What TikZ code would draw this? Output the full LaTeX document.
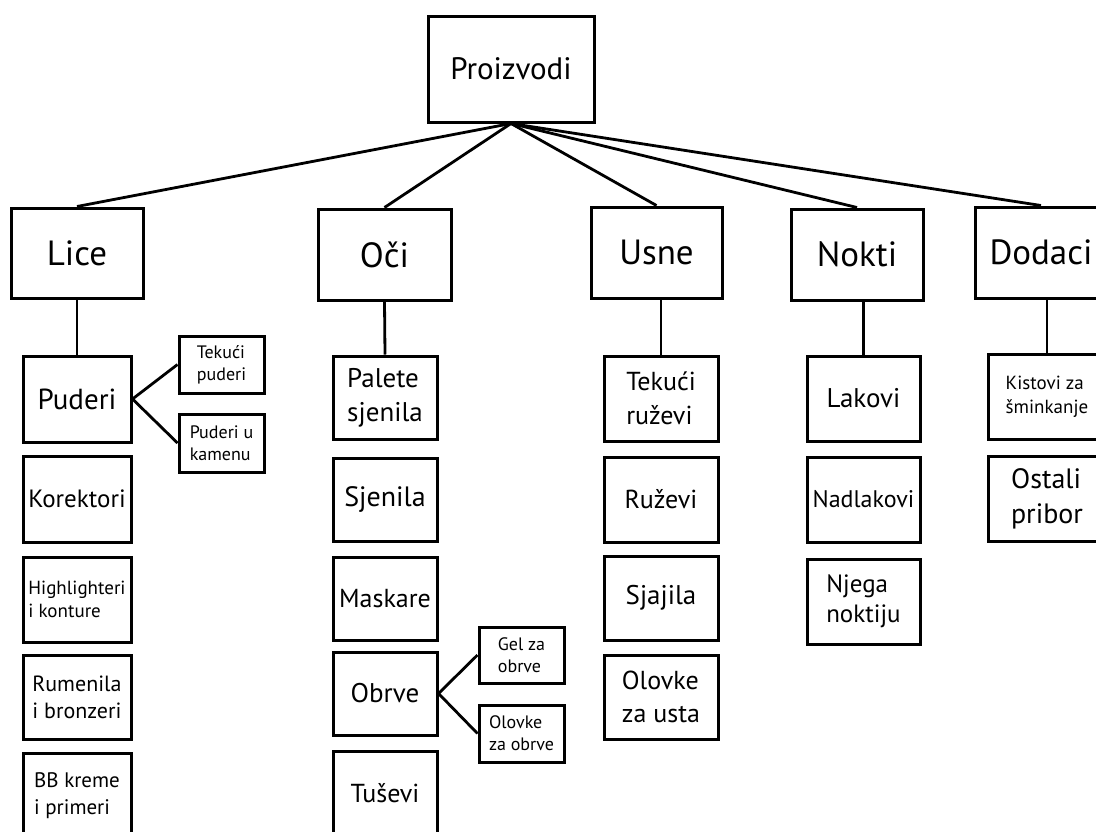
\documentclass[tikz,border=0pt]{standalone}
\usepackage{fontspec}
\setmainfont{PT Sans}
\begin{document}
\begin{tikzpicture}[x=1pt,y=-1pt,
  bx/.style={draw, line width=3pt, inner sep=0pt, align=left},
  wh/.style 2 args={minimum width=#1pt, minimum height=#2pt},
  fs/.style 2 args={font=\fontsize{#1}{#2}\selectfont},
  link/.style={line width=2.8pt}]
\useasboundingbox[fill=white] (0,0) rectangle (1096,831);
% root and categories
\node[bx,wh={166}{106},fs={31}{38}] (P) at (511,69) {Proizvodi};
\node[bx,wh={132}{90},fs={35}{42}] (Lice) at (77,253) {Lice};
\node[bx,wh={133}{91},fs={35}{42}] (Oci) at (384.5,254.5) {Oči};
\node[bx,wh={131}{91},fs={35}{42}] (Usne) at (656.5,252.5) {Usne};
\node[bx,wh={132}{91},fs={35}{42}] (Nokti) at (857,254.5) {Nokti};
\node[bx,wh={132}{91},fs={35}{42}] (Dodaci) at (1041,252.5) {Dodaci};
% Lice column
\node[bx,wh={108}{86},fs={29}{36}] (Puderi) at (77,399) {Puderi};
\node[bx,wh={108}{86},fs={25}{31}] (Kor) at (77,499) {Korektori};
\node[bx,wh={108}{85},fs={19}{23}] (High) at (77,599.5) {Highlighteri\\i konture};
\node[bx,wh={108}{84},fs={22}{27}] (Rum) at (77,697) {Rumenila\\i bronzeri};
\node[bx,wh={108}{85},fs={21}{27}] (BB) at (77,795.5) {BB kreme\\i primeri};
\node[bx,wh={85}{57},fs={18}{22}] (TP) at (221.5,364.5) {Tekući\\puderi};
\node[bx,wh={85}{58},fs={18}{22}] (PK) at (221.5,443) {Puderi u\\kamenu};
% Oci column
\node[bx,wh={104}{83},fs={27}{34}] (Pal) at (385,397.5) {Palete\\sjenila};
\node[bx,wh={104}{83},fs={28}{34}] (Sje) at (385,499.5) {Sjenila};
\node[bx,wh={104}{83},fs={26}{32}] (Mas) at (385,598.5) {Maskare};
\node[bx,wh={104}{83},fs={27}{34}] (Obr) at (385,693.5) {Obrve};
\node[bx,wh={104}{85},fs={26}{32}] (Tus) at (385,793.5) {Tuševi};
\node[bx,wh={85}{56},fs={18}{22}] (Gel) at (521.5,655) {Gel za\\obrve};
\node[bx,wh={85}{57},fs={18}{22}] (OlO) at (521.5,733.5) {Olovke\\za obrve};
% Usne column
\node[bx,wh={114}{85},fs={26}{34}] (TR) at (661,398.5) {Tekući\\ruževi};
\node[bx,wh={114}{85},fs={26}{32}] (Ruz) at (661,499.5) {Ruževi};
\node[bx,wh={114}{84},fs={27}{34}] (Sja) at (661,598) {Sjajila};
\node[bx,wh={114}{84},fs={26}{33}] (OlU) at (661,697) {Olovke\\za usta};
% Nokti column
\node[bx,wh={113}{85},fs={27}{34}] (Lak) at (863.5,398.5) {Lakovi};
\node[bx,wh={113}{85},fs={24}{30}] (Nad) at (863.5,499.5) {Nadlakovi};
\node[bx,wh={113}{85},fs={25}{30}] (Nje) at (863.5,601.5) {Njega\\noktiju};
% Dodaci column
\node[bx,wh={118}{85},fs={19}{24}] (Kis) at (1047,396.5) {Kistovi za\\šminkanje};
\node[bx,wh={118}{85},fs={28}{35}] (Ost) at (1047,498.5) {Ostali\\pribor};
% connectors
\foreach \c in {Lice,Oci,Usne,Nokti,Dodaci}
  \draw[link] (P.south) -- (\c.north);
\draw[link] (Lice.south) -- (Puderi.north);
\draw[link] (Oci.south) -- (Pal.north);
\draw[link] (TR.north) -- (TR.north |- Usne.south);
\draw[link] (Lak.north) -- (Lak.north |- Nokti.south);
\draw[link] (Kis.north) -- (Kis.north |- Dodaci.south);
\draw[link] (Puderi.east) -- (TP.west);
\draw[link] (Puderi.east) -- (PK.west);
\draw[link] (Obr.east) -- (Gel.west);
\draw[link] (Obr.east) -- (OlO.west);
\end{tikzpicture}
\end{document}
